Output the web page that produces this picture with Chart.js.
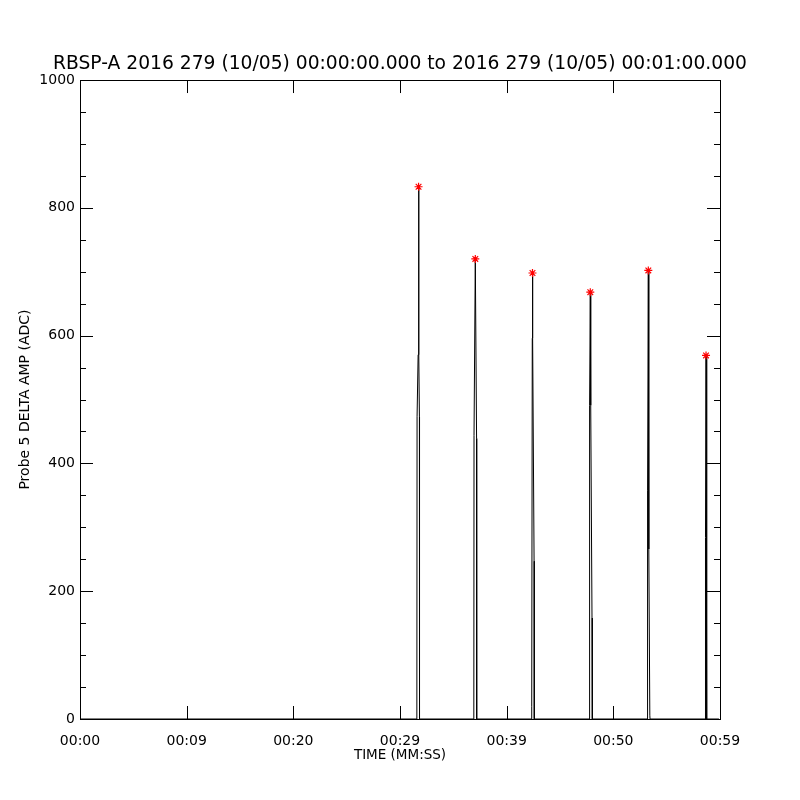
<!DOCTYPE html>
<html>
<head>
<meta charset="utf-8">
<script src="https://cdn.jsdelivr.net/npm/chart.js@4.4.0/dist/chart.umd.min.js"></script>
<style>
  html, body { margin: 0; padding: 0; background: #fff; }
  canvas { display: block; }
</style>
</head>
<body>
<canvas id="chart" width="800" height="800"></canvas>
<script>
// time in seconds after 00:00:00, amplitude in ADC counts
const sampleTimes = [0,
  31.58, 31.60, 31.70, 31.74, 31.78, 31.82, 31.83,
  36.92, 36.94, 37.06, 37.18, 37.19,
  42.33, 42.35, 42.40, 42.42, 42.45, 42.57, 42.59,
  47.73, 47.75, 47.80, 47.84, 47.88, 48.00, 48.03,
  53.16, 53.18, 53.24, 53.28, 53.31, 53.34, 53.42, 53.44,
  58.60, 58.62, 58.66, 58.69, 58.72, 58.76, 58.78,
  59.90];
const sampleAmps = [0,
  0, 473, 570, 833, 570, 473, 0,
  0, 444, 720, 439, 0,
  0, 20, 596, 698, 596, 247, 0,
  0, 28, 491, 668, 491, 158, 0,
  0, 266, 357, 702, 357, 266, 6, 0,
  0, 258, 284, 569, 284, 258, 0,
  0];

// red asterisks mark the peak of each burst
const peakTimes = [31.74, 37.06, 42.42, 47.84, 53.28, 58.69];
const peakAmps = [833, 720, 698, 668, 702, 569];

const xTickLabels = ['00:00', '00:09', '00:20', '00:29', '00:39', '00:50', '00:59'];

Chart.defaults.font.family = "'DejaVu Sans', sans-serif";
Chart.defaults.color = '#000';

// IDL style box with inward ticks on all four sides
const idlAxes = {
  id: 'idlAxes',
  afterDatasetsDraw(chart) {
    const { ctx, chartArea: a, scales: { x, y } } = chart;
    ctx.save();
    ctx.strokeStyle = '#000';
    ctx.lineWidth = 1;
    ctx.beginPath();
    x.ticks.forEach(t => {
      const px = Math.round(x.getPixelForValue(t.value)) + 0.5;
      ctx.moveTo(px, a.bottom); ctx.lineTo(px, a.bottom - 13);
      ctx.moveTo(px, a.top); ctx.lineTo(px, a.top + 13);
    });
    y.ticks.forEach(t => {
      const py = Math.round(y.getPixelForValue(t.value)) + 0.5;
      const len = t.value % 200 === 0 ? 13 : 6;
      ctx.moveTo(a.left, py); ctx.lineTo(a.left + len, py);
      ctx.moveTo(a.right, py); ctx.lineTo(a.right - len, py);
    });
    ctx.stroke();
    ctx.strokeRect(Math.round(a.left) + 0.5, Math.round(a.top) + 0.5,
      Math.round(a.right - a.left), Math.round(a.bottom - a.top));
    ctx.restore();
  }
};

new Chart(document.getElementById('chart').getContext('2d'), {
  type: 'line',
  data: {
    datasets: [
      {
        label: 'Probe 5 delta amp',
        data: sampleTimes.map((t, i) => ({ x: t, y: sampleAmps[i] })),
        borderColor: '#000',
        borderWidth: 1,
        pointRadius: 0,
        tension: 0,
        order: 2
      },
      {
        type: 'scatter',
        label: 'Peaks',
        data: peakTimes.map((t, i) => ({ x: t, y: peakAmps[i] })),
        pointStyle: 'star',
        pointRadius: 4,
        borderColor: 'rgb(255, 0, 0)',
        backgroundColor: 'rgb(255, 0, 0)',
        borderWidth: 1.2,
        order: 1
      }
    ]
  },
  options: {
    responsive: false,
    animation: false,
    layout: { padding: 0 },
    plugins: {
      legend: { display: false },
      tooltip: { enabled: false },
      title: {
        display: true,
        text: 'RBSP-A 2016 279 (10/05) 00:00:00.000 to 2016 279 (10/05) 00:01:00.000',
        font: { size: 18.7, weight: 'normal' },
        color: '#000',
        padding: { top: 52.6, bottom: 5 }
      }
    },
    scales: {
      x: {
        type: 'linear',
        min: 0,
        max: 60,
        grid: { display: false, drawTicks: false },
        border: { display: false },
        ticks: {
          stepSize: 10,
          autoSkip: false,
          maxRotation: 0,
          padding: 14,
          font: { size: 14 },
          callback: (v, i) => xTickLabels[i]
        },
        title: {
          display: true,
          text: 'TIME (MM:SS)',
          font: { size: 13.5 },
          padding: { top: 0, bottom: 36 }
        },
        afterFit: s => { s.height = 81; }
      },
      y: {
        min: 0,
        max: 1000,
        grid: { display: false, drawTicks: false },
        border: { display: false },
        ticks: {
          stepSize: 50,
          autoSkip: false,
          padding: 5,
          font: { size: 14 },
          callback: v => (v % 200 === 0 ? String(v) : '')
        },
        title: {
          display: true,
          text: 'Probe 5 DELTA AMP (ADC)',
          font: { size: 14 },
          padding: { top: 17, bottom: 0 }
        },
        afterFit: s => { s.width = 80; }
      },
      // empty right-hand axis keeps an 80px margin so the title stays centred on the page
      yRight: {
        position: 'right',
        min: 0,
        max: 1000,
        grid: { display: false, drawTicks: false },
        border: { display: false },
        ticks: { display: false },
        afterFit: s => { s.width = 80; }
      }
    }
  },
  plugins: [idlAxes]
});
</script>
</body>
</html>
